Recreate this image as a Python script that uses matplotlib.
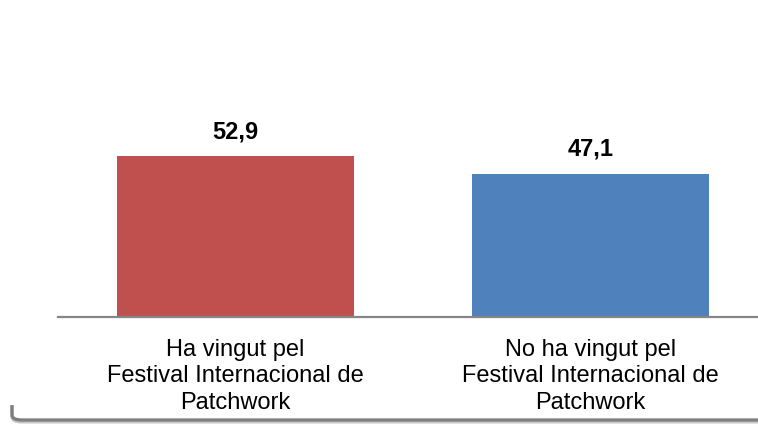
import matplotlib
matplotlib.use("Agg")
import matplotlib.pyplot as plt
from matplotlib.path import Path
from matplotlib.patches import PathPatch

categories = ["Ha vingut pel\nFestival Internacional de\nPatchwork",
              "No ha vingut pel\nFestival Internacional de\nPatchwork"]
values = [52.9, 47.1]
labels = ["52,9", "47,1"]
colors = ["#C0504D", "#4F81BD"]

plt.rcParams['font.family'] = ['Liberation Sans', 'DejaVu Sans']

W, H = 758, 435
fig = plt.figure(figsize=(W / 100, H / 100), dpi=100)
ax = fig.add_axes([58 / W, (H - 318) / H, 710 / W, 304 / H])

x = list(range(len(values)))
ax.bar(x, values, width=0.667, color=colors, zorder=2)
for xi, v, lab in zip(x, values, labels):
    ax.annotate(lab, (xi, v), xytext=(0, 14), textcoords="offset pixels",
                ha="center", va="bottom", fontsize=17, fontweight="bold", color="black")

ax.set_xlim(-0.5, 1.5)
ax.set_ylim(0, 100)
ax.set_yticks([])
ax.set_xticks(x)
ax.set_xticklabels(categories, fontsize=17, linespacing=1.27)
ax.tick_params(axis="x", length=0, pad=15)
for s in ["top", "right", "left"]:
    ax.spines[s].set_visible(False)
ax.spines["bottom"].set_color("#868686")
ax.spines["bottom"].set_linewidth(1.6)

# decorative bracket at the bottom
def fx(px):
    return px / W
def fy(py):
    return (H - py) / H

verts = [(fx(12), fy(407)), (fx(12), fy(418)), (fx(12), fy(423)), (fx(22), fy(423)), (fx(760), fy(423))]
codes = [Path.MOVETO, Path.LINETO, Path.CURVE3, Path.CURVE3, Path.LINETO]
fig.patches.append(PathPatch(Path(verts, codes), transform=fig.transFigure,
                             fill=False, edgecolor="#C8C8C8", linewidth=2.2,
                             capstyle="butt"))
verts2 = [(v[0], v[1] + 2 / H) for v in verts]
verts2[0] = (fx(12), fy(406))
fig.patches.append(PathPatch(Path(verts2, codes), transform=fig.transFigure,
                             fill=False, edgecolor="#808080", linewidth=2.4,
                             capstyle="butt"))

fig.savefig("out.png", dpi=100)
